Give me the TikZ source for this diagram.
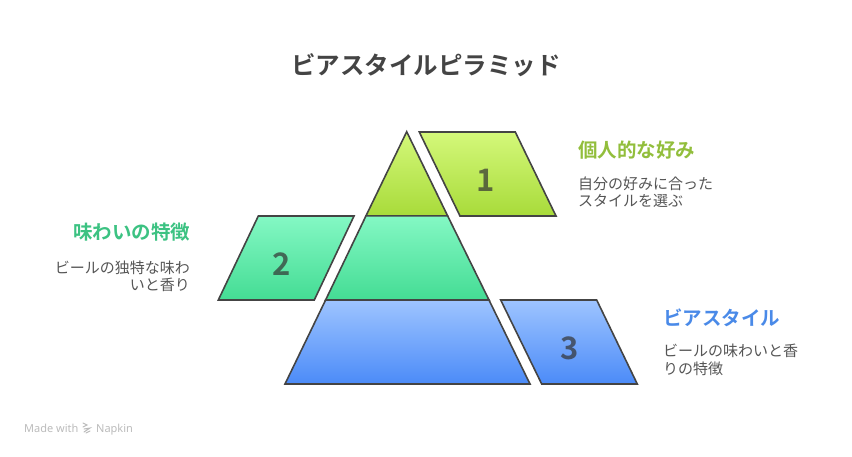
\documentclass[tikz,border=0pt]{standalone}
\usepackage{fontspec}
\setmainfont{Noto Sans CJK JP}[BoldFont={Noto Sans CJK JP Bold}]
\newfontfamily\latinfont{Noto Sans}
\usetikzlibrary{calc}
\definecolor{ytop}{HTML}{D4F87A}
\definecolor{ybot}{HTML}{A8DB3A}
\definecolor{gtop}{HTML}{84F8C4}
\definecolor{gbot}{HTML}{44DC94}
\definecolor{btop}{HTML}{9EC4FF}
\definecolor{bbot}{HTML}{4B8BF8}
\definecolor{edge}{HTML}{444444}
\definecolor{titlec}{HTML}{444444}
\definecolor{bodyc}{HTML}{555555}
\definecolor{yhead}{HTML}{92BE3C}
\definecolor{ghead}{HTML}{3CC282}
\definecolor{bhead}{HTML}{4A8AE8}
\definecolor{numc}{HTML}{333333}
\definecolor{footc}{HTML}{BBBBBB}
\tikzset{
  shp/.style={draw=edge, line width=1.6pt, line join=miter},
  yfill/.style={top color=ytop, bottom color=ybot},
  gfill/.style={top color=gtop, bottom color=gbot},
  bfill/.style={top color=btop, bottom color=bbot},
  num/.style={font=\fontsize{31}{31}\selectfont\bfseries, text=numc, text opacity=0.7, inner sep=0pt},
  head/.style={font=\fontsize{19.5}{22}\selectfont\bfseries, inner sep=0pt},
  body/.style={font=\fontsize{15}{18}\selectfont, text=bodyc, inner sep=0pt},
}
\begin{document}
\begin{tikzpicture}[x=1pt,y=-1pt]
\useasboundingbox (0,0) rectangle (852,456);
% pyramid layers
\coordinate (apex) at (406.7,131.7);
\coordinate (l1l) at (366,215.8);
\coordinate (l1r) at (447.6,215.8);
\coordinate (l2l) at (325.6,300);
\coordinate (l2r) at (489,300);
\coordinate (bl) at (285,384);
\coordinate (br) at (530,384);
\path[shp, yfill] (apex) -- (l1r) -- (l1l) -- cycle;
\path[shp, gfill] (l1l) -- (l1r) -- (l2r) -- (l2l) -- cycle;
\path[shp, bfill] (l2l) -- (l2r) -- (br) -- (bl) -- cycle;
% parallelograms
\path[shp, yfill] (419.3,132) -- (515.3,132) -- (556,216) -- (460,216) -- cycle;
\path[shp, gfill] (258.3,216) -- (354,216) -- (314.3,300) -- (218.3,300) -- cycle;
\path[shp, bfill] (500.7,300) -- (596.7,300) -- (637.3,384) -- (541.7,384) -- cycle;
\node[num] (n1) at (485.5,180) {1};
\node[num] (n2) at (282,264.5) {2};
\node[num] (n3) at (569.5,348.5) {3};
% title
\node[font=\fontsize{24.5}{28}\selectfont\bfseries, text=titlec, inner sep=0pt, anchor=base] (title) at (426,74) {ビアスタイルピラミッド};
% right top
\node[head, text=yhead, anchor=base west] (h1) at (578,157) {個人的な好み};
\node[body, anchor=base west] (b1a) at (578,189) {自分の好みに合った};
\node[body, anchor=base west] (b1b) at (578,206.8) {スタイルを選ぶ};
% left
\node[head, text=ghead, anchor=base east] (h2) at (190.5,239.5) {味わいの特徴};
\node[body, anchor=base east] (b2a) at (190,273.3) {ビールの独特な味わ};
\node[body, anchor=base east] (b2b) at (190,290.2) {いと香り};
% right bottom
\node[head, text=bhead, anchor=base west] (h3) at (663,325) {ビアスタイル};
\node[body, anchor=base west] (b3a) at (663,356.4) {ビールの味わいと香};
\node[body, anchor=base west] (b3b) at (663,374.5) {りの特徴};
% footer
\node[font=\fontsize{11}{12}\selectfont\latinfont, text=footc, inner sep=0pt, anchor=base west] (made) at (24,432) {Made with};
\node[font=\fontsize{11}{12}\selectfont\latinfont, text=footc, inner sep=0pt, anchor=base west] (napkin) at (96,432) {Napkin};
\coordinate (logo) at (83,428);
\draw[footc, line width=1pt, line cap=round] ($(logo)+(0,-5)$) -- ($(logo)+(4,-3)$) -- ($(logo)+(0,-1)$);
\draw[footc, line width=1pt, line cap=round] ($(logo)+(1,1)$) -- ($(logo)+(7,0)$) -- ($(logo)+(1,4)$);
\draw[footc, line width=1pt, line cap=round] ($(logo)+(3,5)$) -- ($(logo)+(7,3)$);
\end{tikzpicture}
\end{document}
